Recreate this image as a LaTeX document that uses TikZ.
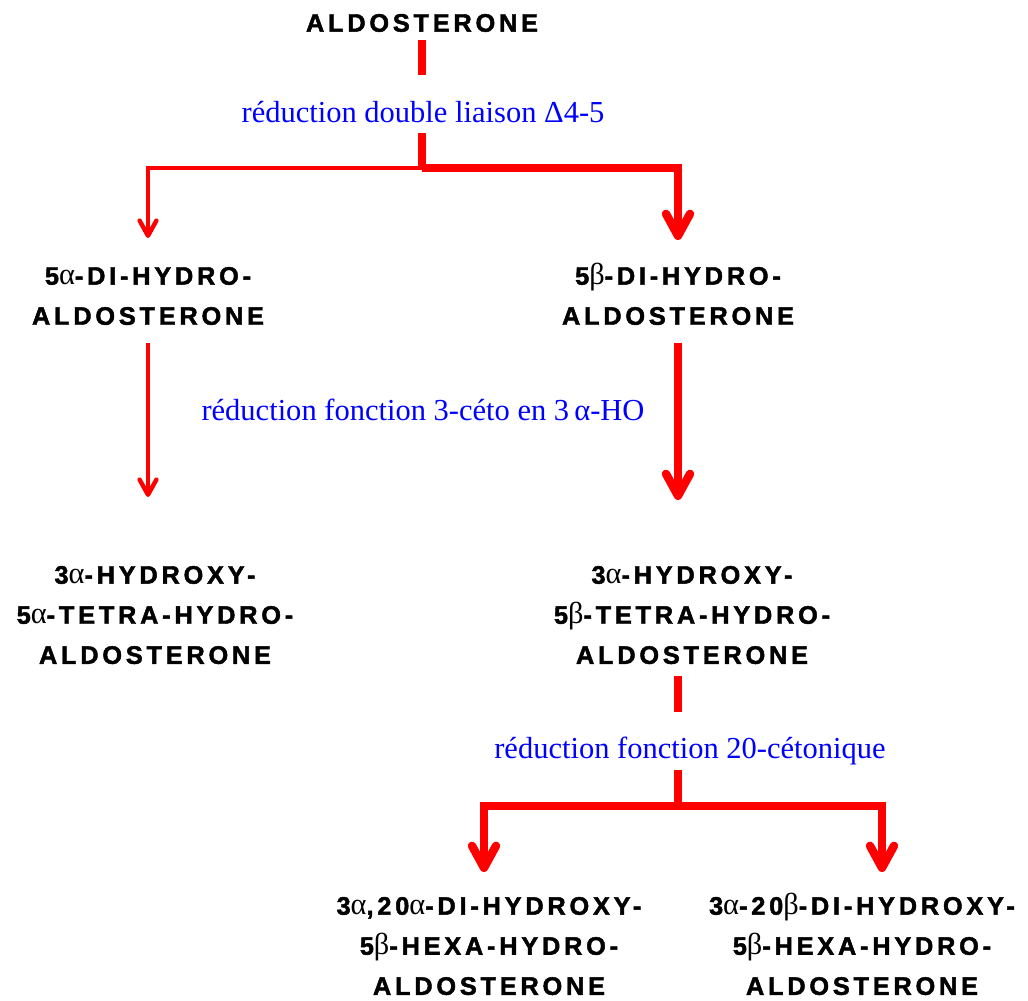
\documentclass[tikz,border=0pt]{standalone}
\usepackage{fontspec}
\setmainfont{Liberation Serif}
\setsansfont{Liberation Sans}
\newfontfamily\grkfont[Scale=1.2]{Liberation Serif}
\usetikzlibrary{arrows.meta}

% greek letters kept out of the line height
\newcommand{\ga}{\smash{\grkfont\mdseries α}}
\newcommand{\gb}{\smash{\grkfont\mdseries β}}

\begin{document}
\begin{tikzpicture}[x=0.25mm, y=-0.25mm,
    mol/.style={font=\sffamily\bfseries\fontsize{18}{28.5}\selectfont\addfontfeature{LetterSpace=15,FakeBold=1.8},
      align=center, inner sep=0pt, outer sep=0pt, anchor=north},
    reac/.style={font=\rmfamily\fontsize{21.7}{24}\selectfont, text=blue,
      inner sep=0pt, outer sep=0pt, anchor=base},
    stub/.style={draw=red, line width=2.1mm},
    arrA/.style={draw=red, line width=1.1mm, -{Straight Barb[length=3.8mm, width=4.2mm, round]}},
    arrB/.style={draw=red, line width=2.1mm, -{Straight Barb[length=5.5mm, width=6mm, round]}}]
  \useasboundingbox (0,0) rectangle (1028,1000);

  % molecules
  \node[mol] (ald) at (422,14) {ALDOSTERONE};
  \node[mol] (dha) at (148,267) {5\ga-DI-HYDRO-\\ALDOSTERONE};
  \node[mol] (dhb) at (678,267) {5\gb-DI-HYDRO-\\ALDOSTERONE};
  \node[mol] (tha) at (155,566) {3\ga-HYDROXY-\\5\ga-TETRA-HYDRO-\\ALDOSTERONE};
  \node[mol] (thb) at (692,566) {3\ga-HYDROXY-\\5\gb-TETRA-HYDRO-\\ALDOSTERONE};
  \node[mol] (hha) at (489,897) {3\ga,20\ga-DI-HYDROXY-\\5\gb-HEXA-HYDRO-\\ALDOSTERONE};
  \node[mol] (hhb) at (862,897) {3\ga-20\gb-DI-HYDROXY-\\5\gb-HEXA-HYDRO-\\ALDOSTERONE};

  % reactions
  \node[reac] (red1) at (423,122) {réduction double liaison Δ4-5};
  \node[reac] (red2) at (423,420) {réduction fonction 3-céto en 3\,α-HO};
  \node[reac] (red3) at (690,758) {réduction fonction 20-cétonique};

  \coordinate (fork1) at (422,168);
  \coordinate (fork2) at (678,806);

  % first step
  \draw[stub, shorten <=2mm, shorten >=6.5mm] (ald.south -| fork1) -- (red1.north -| fork1);
  \draw[stub, shorten <=2.75mm] (red1.south -| fork1) -- (fork1);
  \draw[arrA, shorten >=7.25mm] (fork1) -| (dha.north);
  \draw[arrB, shorten >=6.75mm] (fork1) -| (dhb.north);

  % second step
  \draw[arrA, shorten <=4.5mm, shorten >=17.25mm] (dha.south) -- (dha.south |- tha.north);
  \draw[arrB, shorten <=4.5mm, shorten >=16.5mm] (dhb.south) -- (dhb.south |- thb.north);

  % third step
  \draw[stub, shorten <=3mm, shorten >=6.25mm] (fork2 |- thb.south) -- (fork2 |- red3.north);
  \draw[stub, shorten <=1.35mm] (fork2 |- red3.south) -- (fork2);
  \draw[arrB, shorten >=6.25mm] (fork2) -| ([xshift=-1.25mm]hha.north);
  \draw[arrB, shorten >=6.25mm] (fork2) -| ([xshift=5mm]hhb.north);
\end{tikzpicture}
\end{document}
